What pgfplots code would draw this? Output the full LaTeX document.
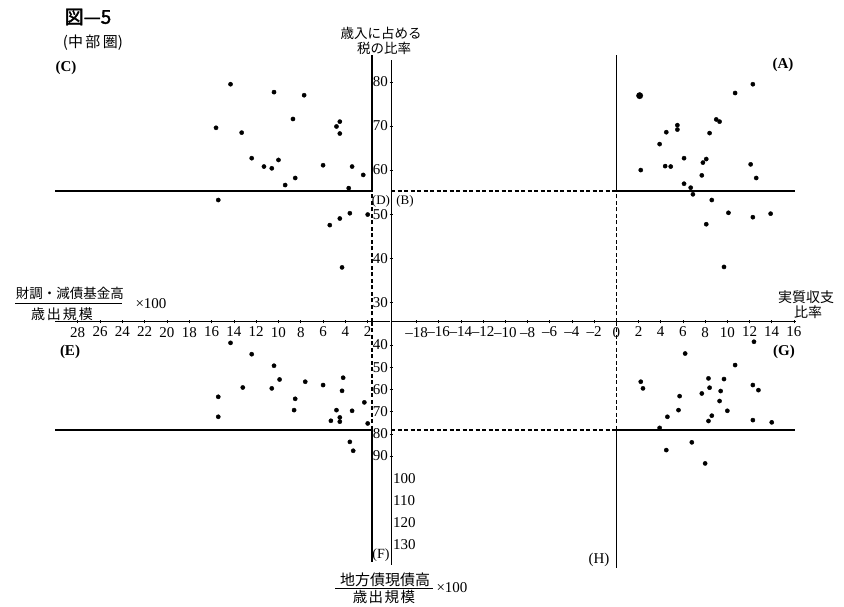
\documentclass[border=0pt]{standalone}
\usepackage{pgfplots}
\usepackage{pgfplotstable}
\pgfplotsset{compat=1.18}
\usepackage{fontspec}
\setmainfont{Liberation Serif}
\newfontfamily\cjk{Noto Sans CJK JP}
\newfontfamily\cjkb[FakeBold=2]{Noto Sans CJK JP}
\newcommand{\fs}[1]{\fontsize{#1}{#1}\selectfont}

% (C)/(D): x = 財調・減債基金高/歳出規模x100, y = 歳入に占める税の比率
\pgfplotstableread{
x y
14.3 79.5
10.4 77.7
7.7 77.0
15.6 69.6
13.3 68.5
8.7 71.6
4.5 71.0
4.8 69.9
4.5 68.3
12.4 62.7
10.0 62.3
11.3 60.8
10.6 60.4
6.0 61.1
3.4 60.8
2.4 58.9
8.5 58.2
9.4 56.6
3.7 55.9
3.6 50.2
4.5 49.0
5.4 47.5
2.0 49.9
4.3 37.9
15.4 53.2
}\dataC

% (A)/(B): x = 実質収支比率, y = 歳入に占める税の比率
\pgfplotstableread{
x y
12.3 79.5
10.7 77.5
9.0 71.5
9.3 71.0
5.5 70.2
5.5 69.2
4.5 68.6
8.4 68.4
3.9 65.9
6.1 62.7
8.1 62.5
7.8 61.7
4.4 60.9
4.9 60.8
2.2 60.0
12.1 61.3
12.6 58.2
7.7 58.8
6.1 56.9
6.7 56.0
6.9 54.5
8.6 53.2
10.1 50.3
12.3 49.3
13.9 50.1
8.1 47.7
9.7 38.0
}\dataA

% (E)/(F): x = 財調・減債基金高/歳出規模x100, y = 地方債現債高/歳出規模x100
\pgfplotstableread{
x y
14.3 39.0
12.4 44.1
10.4 49.3
9.9 55.5
7.6 56.5
6.0 58.0
4.2 54.7
4.3 60.6
13.2 59.1
10.6 59.5
8.5 64.2
8.6 69.3
15.4 63.3
15.4 72.3
4.8 69.3
3.4 69.6
4.5 72.6
5.3 74.1
4.5 74.5
2.3 65.8
2.0 75.3
3.6 83.6
3.3 87.6
}\dataE

% (G)/(H): x = 実質収支比率, y = 地方債現債高/歳出規模x100
\pgfplotstableread{
x y
6.2 43.8
10.7 49.0
2.2 56.5
2.4 59.5
8.3 55.0
9.7 55.3
8.4 59.2
7.7 61.8
9.4 60.7
5.7 63.0
12.3 58.0
12.8 60.3
9.3 65.2
5.6 69.3
4.6 72.3
8.6 71.8
10.0 69.6
8.3 74.2
12.3 73.8
14.0 74.8
3.9 77.3
6.8 83.8
4.5 87.3
8.0 93.3
12.4 38.5
}\dataG

\begin{document}
\begin{tikzpicture}
\useasboundingbox (0pt,0pt) rectangle (844pt,607pt);
\pgfplotsset{
  quad/.style={scale only axis, clip=false, anchor=south west,
    axis line style={-, line width=1pt, black},
    every non boxed x axis/.append style={x axis line style=-},
    every non boxed y axis/.append style={y axis line style=-},
    tick style={black, line width=0.6pt},
    major tick length=3pt, tick align=inside,
    ticklabel style={font=\fs{15}},
    /pgf/number format/assume math mode=true},
  dots/.style={only marks, mark=*, mark size=2.1pt, mark options={fill=black, draw=black}},
  solidln/.style={black, line width=1.4pt},
  dashln/.style={black, line width=1.6pt, dash pattern=on 4pt off 2.5pt},
}

% ---------- top left (C)/(D)
\begin{axis}[quad, at={(55pt,285pt)}, width=335pt, height=262pt,
  xmin=0, xmax=30.04, x dir=reverse, ymin=25.5, ymax=85,
  axis x line=bottom, axis y line=none,
  xtick={2,4,...,28}, ytick=\empty]
\addplot[dots] table {\dataC};
\addplot[solidln] coordinates {(1.6,55.23) (30.04,55.23)};
\addplot[solidln] coordinates {(1.6,55.23) (1.6,86.1)};
\addplot[dashln] coordinates {(1.6,25.5) (1.6,55.23)};
\end{axis}

% ---------- top right (A)/(B)
\begin{axis}[quad, at={(391pt,285pt)}, width=405pt, height=262pt,
  xmin=-20.3, xmax=16.186, ymin=25.5, ymax=85,
  axis x line=bottom, axis y line=left,
  xtick={-18,-16,...,16},
  xticklabels={–18,–16,–14,–12,–10,–8,–6,–4,–2,0,2,4,6,8,10,12,14,16},
  ytick={30,40,...,80}, yticklabel style={inner sep=1.5pt}]
\addplot[dots] table {\dataA};
\addplot[only marks, mark=*, mark size=3.2pt, mark options={fill=black, draw=black}] coordinates {(2.1,76.9)};
\addplot[dashln] coordinates {(-20.3,55.23) (0,55.23)};
\addplot[solidln] coordinates {(0,55.23) (16.1,55.23)};
\addplot[solidln] coordinates {(0,55.23) (0,86.1)};
\addplot[dashln] coordinates {(0,25.5) (0,55.23)};
\end{axis}

% ---------- bottom left (E)/(F)
\begin{axis}[quad, at={(55pt,42pt)}, width=335pt, height=243pt,
  xmin=0, xmax=30.04, x dir=reverse, ymin=29.6, ymax=139.06, y dir=reverse,
  hide axis]
\addplot[dots] table {\dataE};
\addplot[solidln] coordinates {(1.6,78.2) (30.04,78.2)};
\addplot[dashln] coordinates {(1.6,29.6) (1.6,78.2)};
\addplot[solidln] coordinates {(1.6,78.2) (1.6,137.5)};
\end{axis}

% ---------- bottom right (G)/(H)
\begin{axis}[quad, at={(391pt,42pt)}, width=405pt, height=243pt,
  xmin=-20.3, xmax=16.186, ymin=29.6, ymax=139.06, y dir=reverse,
  axis x line=none, axis y line=left,
  ytick={40,50,...,90}, yticklabel style={inner sep=1.5pt},
  extra y ticks={100,110,120,130},
  extra y tick style={major tick length=0pt, yticklabel style={anchor=west, inner sep=2pt}}]
\addplot[dots] table {\dataG};
\addplot[dashln] coordinates {(-20.3,78.2) (0,78.2)};
\addplot[solidln] coordinates {(0,78.2) (16.1,78.2)};
\addplot[dashln] coordinates {(0,29.6) (0,78.2)};
\addplot[solidln] coordinates {(0,78.2) (0,140.4)};
\end{axis}

% ---------- texts
\node[font={\cjkb\fs{19}}] at (88pt,590pt) {図—5};
\node[font={\cjk\fs{15}}] at (93pt,564pt) {(中\,部\,圏)};
\node[font={\cjk\fs{13.5}}] at (381pt,574pt) {歳入に占める};
\node[font={\cjk\fs{13.5}}] at (384pt,559pt) {税の比率};

\node[font={\bfseries\fs{15}}] at (66pt,539pt) {(C)};
\node[font={\bfseries\fs{15}}] at (783pt,542pt) {(A)};
\node[font={\fs{13}}, inner sep=0pt] at (381pt,406pt) {(D)};
\node[font={\fs{13}}, inner sep=0pt] at (405pt,406pt) {(B)};
\node[font={\bfseries\fs{15}}] at (70pt,255pt) {(E)};
\node[font={\bfseries\fs{15}}] at (784pt,255pt) {(G)};
\node[font={\fs{14}}] at (381pt,52pt) {(F)};
\node[font={\fs{15}}] at (599pt,47pt) {(H)};

% left axis title
\node[font={\cjk\fs{13.5}}] at (70pt,314pt) {財調・減債基金高};
\draw[line width=0.8pt] (15pt,303.5pt) -- (122pt,303.5pt);
\node[font={\cjk\fs{14}}] at (62pt,293pt) {歳\kern2pt出\kern2pt規\kern2pt模};
\node[font={\fs{15}}, anchor=west] at (132pt,303pt) {×100};

% right axis title
\node[font={\cjk\fs{14}}] at (806pt,310pt) {実質収支};
\node[font={\cjk\fs{14}}] at (808pt,295pt) {比率};

% bottom axis title
\node[font={\cjk\fs{15}}] at (385pt,27pt) {地方債現債高};
\draw[line width=0.8pt] (335pt,19pt) -- (433pt,19pt);
\node[font={\cjk\fs{14.5}}] at (384pt,10pt) {歳\kern1.5pt出\kern1.5pt規\kern1.5pt模};
\node[font={\fs{15}}, anchor=west] at (433pt,19pt) {×100};
\end{tikzpicture}
\end{document}
